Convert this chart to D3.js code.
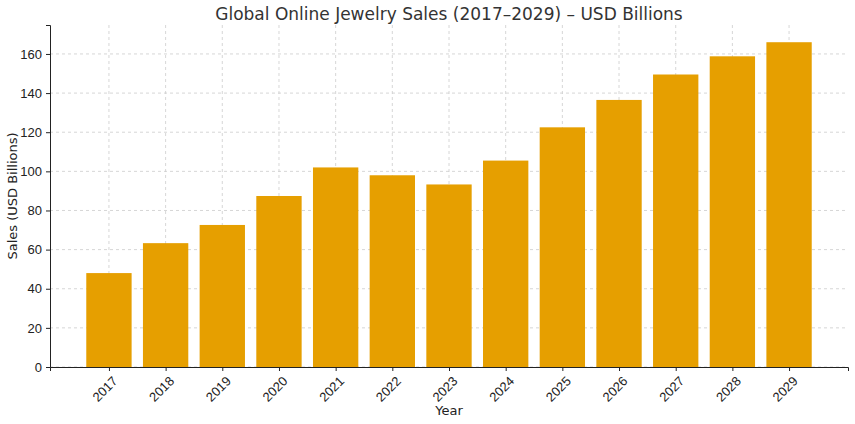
<!DOCTYPE html>
<html><head><meta charset="utf-8">
<script src="https://cdn.jsdelivr.net/npm/d3@7"></script>
<style>body{margin:0;background:#fff}svg{font-family:"DejaVu Sans",sans-serif}</style>
</head><body>
<svg id="chart" width="855" height="424"></svg>
<script>
const years = ['2017','2018','2019','2020','2021','2022','2023','2024','2025','2026','2027','2028','2029'];
const sales = [48, 63.3, 72.6, 87.4, 102, 98, 93.3, 105.5, 122.5, 136.5, 149.5, 158.8, 166];
const yTicks = [0, 20, 40, 60, 80, 100, 120, 140, 160];

const svg = d3.select('#chart');
const m = {left: 50, right: 848, top: 25, bottom: 367};

const x = d3.scaleLinear().domain([-1.04, 13.04]).range([m.left, m.right]);
const y = d3.scaleLinear().domain([0, 174.8]).range([m.bottom, m.top]);
const bw = x(0.8) - x(0);

// grid
svg.append('g').selectAll('line').data(yTicks).join('line')
  .attr('x1', m.left).attr('x2', m.right)
  .attr('y1', d => y(d)).attr('y2', d => y(d))
  .attr('stroke', '#ccc').attr('stroke-width', 0.8).attr('stroke-dasharray', '3,3');
svg.append('g').selectAll('line').data(years).join('line')
  .attr('x1', (d, i) => x(i)).attr('x2', (d, i) => x(i))
  .attr('y1', m.top).attr('y2', m.bottom)
  .attr('stroke', '#ccc').attr('stroke-width', 0.8).attr('stroke-dasharray', '3,3');

// bars
svg.append('g').selectAll('rect').data(sales).join('rect')
  .attr('x', (d, i) => x(i) - bw / 2).attr('width', bw)
  .attr('y', d => y(d)).attr('height', d => y(0) - y(d))
  .attr('fill', '#E69F00');

// axes
const yAxis = svg.append('g').attr('transform', `translate(${m.left},0)`)
  .call(d3.axisLeft(y).tickValues(yTicks).tickSize(4).tickPadding(4));
const xAxis = svg.append('g').attr('transform', `translate(0,${m.bottom})`)
  .call(d3.axisBottom(x).tickValues(d3.range(years.length)).tickFormat(i => years[i]).tickSize(4));
[yAxis, xAxis].forEach(a => {
  a.selectAll('text').attr('font-size', 13).attr('fill', '#222');
  a.selectAll('line, path').attr('stroke', '#222');
});
xAxis.selectAll('text')
  .attr('text-anchor', 'end').attr('dx', 0).attr('dy', 0)
  .attr('transform', 'translate(4,10) rotate(-45)');

svg.append('text').attr('x', 449).attr('y', 20).attr('text-anchor', 'middle')
  .attr('font-size', 17).attr('fill', '#333')
  .text('Global Online Jewelry Sales (2017–2029) – USD Billions');
svg.append('text').attr('x', 449).attr('y', 415).attr('text-anchor', 'middle')
  .attr('font-size', 13).attr('fill', '#222').text('Year');
svg.append('text').attr('transform', `translate(17,${(m.top + m.bottom) / 2}) rotate(-90)`)
  .attr('text-anchor', 'middle').attr('font-size', 13).attr('fill', '#222')
  .text('Sales (USD Billions)');
</script>
</body></html>
